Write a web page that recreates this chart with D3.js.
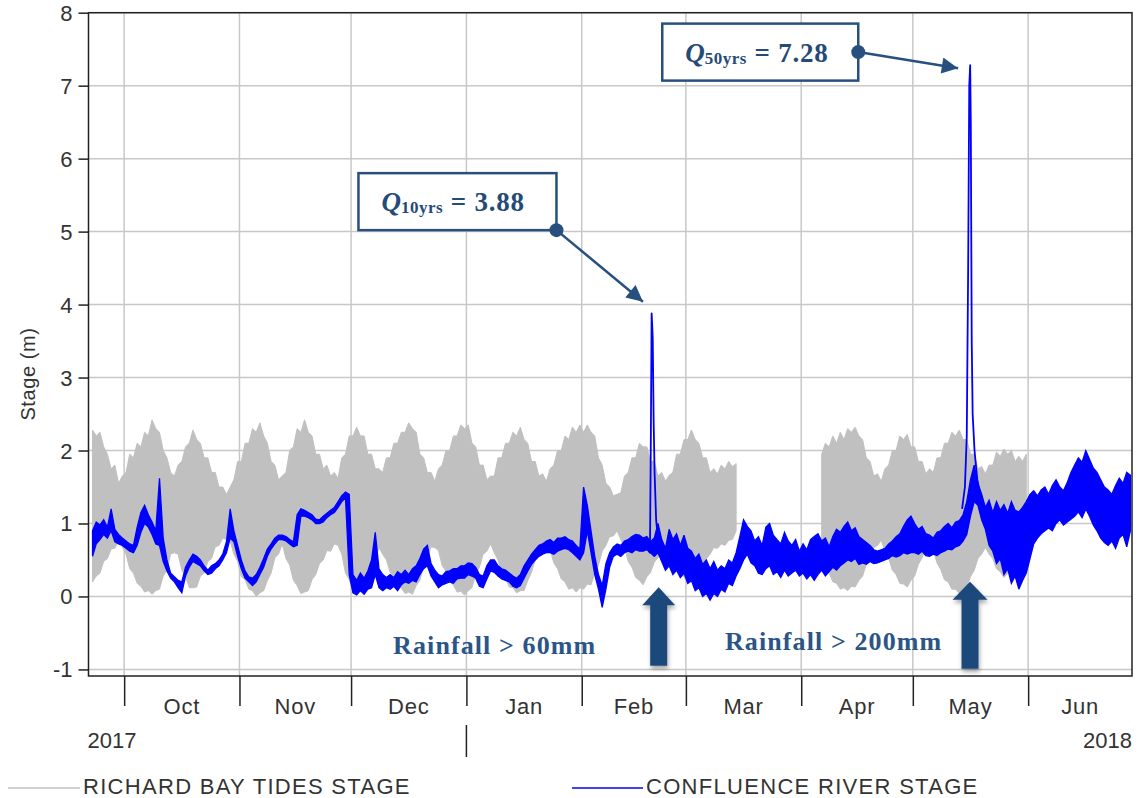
<!DOCTYPE html>
<html>
<head>
<meta charset="utf-8">
<script src="https://cdn.jsdelivr.net/npm/d3@7"></script>
<style>
  body { margin: 0; background: #fff; }
  svg { display: block; }
</style>
</head>
<body>
<svg id="chart" width="1142" height="798"></svg>
<script>
// Daily stage records start on this day (index 0)
const startDay = new Date(2017, 8, 22);

// Richards Bay tide gauge: daily high / low stage (m); null = no record
const tideHigh = [
  2.28,2.2,2.25,2.05,1.95,1.75,1.8,1.55,1.65,1.7,
  1.95,1.9,2.1,2.05,2.25,2.2,2.42,2.3,2.25,2.0,
  1.9,1.7,1.65,1.8,1.85,2.05,2.1,2.28,2.15,2.1,
  1.9,1.9,1.7,1.7,1.5,1.5,1.4,1.5,1.6,1.85,
  1.85,2.1,2.1,2.3,2.25,2.38,2.2,2.1,1.85,1.8,
  1.6,1.65,1.7,2.0,2.05,2.3,2.25,2.42,2.25,2.2,
  1.95,1.95,1.75,1.8,1.65,1.7,1.62,1.9,1.95,2.2,
  2.2,2.32,2.2,2.2,1.95,1.95,1.75,1.75,1.7,1.9,
  1.9,2.1,2.1,2.25,2.25,2.38,2.3,2.25,1.95,1.9,
  1.7,1.7,1.58,1.75,1.8,2.0,2.0,2.2,2.2,2.35,
  2.3,2.35,2.1,2.05,1.8,1.8,1.6,1.65,1.65,1.9,
  1.9,2.1,2.1,2.25,2.2,2.32,2.15,2.1,1.85,1.85,
  1.65,1.68,1.58,1.75,1.8,2.0,2.0,2.2,2.15,2.32,
  2.25,2.35,2.25,2.35,2.25,2.2,1.9,1.8,1.55,1.5,
  1.38,1.4,1.42,1.65,1.7,1.9,1.9,2.1,2.05,2.05,
  1.85,1.85,1.65,1.7,1.58,1.66,1.7,1.95,1.95,2.15,
  2.15,2.28,2.15,2.1,1.9,1.9,1.7,1.75,1.68,1.8,
  1.75,1.85,1.78,1.82,null,null,null,null,null,null,
  null,null,null,null,null,null,null,null,null,null,
  null,null,null,null,null,null,1.95,2.1,2.05,2.2,
  2.1,2.25,2.15,2.3,2.25,2.32,2.2,2.15,1.9,1.85,
  1.65,1.68,1.58,1.75,1.8,2.0,2.0,2.2,2.15,2.22,
  2.05,2.05,1.85,1.85,1.68,1.75,1.7,1.9,1.9,2.1,
  2.1,2.25,2.2,2.28,2.15,2.15,1.95,1.95,1.75,1.78,
  1.68,1.8,1.8,1.98,1.92,2.02,1.95,2.0,1.85,1.92,
  1.85,1.95
];
const tideLow = [
  0.2,0.28,0.32,0.48,0.52,0.65,0.66,0.76,0.68,0.58,
  0.38,0.32,0.18,0.14,0.06,0.08,0.03,0.08,0.1,0.28,
  0.36,0.58,0.6,0.58,0.36,0.28,0.12,0.12,0.13,0.28,
  0.32,0.48,0.52,0.68,0.7,0.8,0.78,0.76,0.58,0.48,
  0.27,0.23,0.1,0.08,0.0,0.05,0.08,0.22,0.32,0.53,
  0.58,0.72,0.52,0.43,0.22,0.15,0.04,0.06,0.08,0.23,
  0.3,0.45,0.5,0.63,0.62,0.72,0.7,0.58,0.32,0.23,
  0.08,0.09,0.06,0.18,0.25,0.45,0.52,0.67,0.58,0.5,
  0.33,0.28,0.13,0.12,0.04,0.06,0.03,0.15,0.22,0.43,
  0.52,0.68,0.67,0.63,0.42,0.35,0.2,0.16,0.06,0.07,
  0.02,0.08,0.12,0.3,0.4,0.58,0.62,0.72,0.6,0.5,
  0.32,0.26,0.13,0.12,0.05,0.08,0.08,0.22,0.33,0.5,
  0.58,0.7,0.7,0.64,0.46,0.38,0.24,0.2,0.1,0.12,
  0.06,0.12,0.1,0.17,0.16,0.32,0.43,0.62,0.7,0.82,
  0.83,0.9,0.78,0.67,0.48,0.4,0.26,0.22,0.16,0.27,
  0.33,0.47,0.53,0.64,0.64,0.67,0.53,0.44,0.3,0.27,
  0.18,0.2,0.18,0.32,0.38,0.52,0.58,0.67,0.66,0.72,
  0.7,0.77,0.78,0.9,null,null,null,null,null,null,
  null,null,null,null,null,null,null,null,null,null,
  null,null,null,null,null,null,0.52,0.38,0.32,0.2,
  0.18,0.1,0.12,0.08,0.14,0.13,0.22,0.28,0.44,0.53,
  0.67,0.7,0.77,0.63,0.52,0.36,0.3,0.18,0.17,0.13,
  0.22,0.28,0.44,0.53,0.67,0.68,0.64,0.46,0.37,0.23,
  0.2,0.1,0.1,0.04,0.1,0.13,0.27,0.36,0.52,0.58,
  0.67,0.58,0.52,0.38,0.34,0.26,0.32,0.38,0.52,0.53,
  0.62,0.63
];

// Confluence river gauge: daily low / high stage (m)
const riverLow = [
  0.55,0.72,0.78,0.85,0.8,0.9,0.75,0.72,0.7,0.66,
  0.62,0.6,0.7,0.88,1.0,0.95,0.85,0.72,0.7,0.48,
  0.35,0.25,0.2,0.12,0.05,0.28,0.4,0.48,0.45,0.42,
  0.35,0.3,0.32,0.38,0.42,0.5,0.6,0.8,0.75,0.55,
  0.38,0.25,0.2,0.15,0.2,0.3,0.4,0.55,0.65,0.72,
  0.78,0.78,0.76,0.72,0.68,0.7,1.1,1.1,1.08,1.05,
  1.0,1.0,1.02,1.08,1.12,1.15,1.22,1.3,1.35,0.3,
  0.05,0.02,0.08,0.03,0.1,0.12,0.3,0.12,0.08,0.12,
  0.1,0.14,0.08,0.16,0.2,0.18,0.22,0.2,0.3,0.38,
  0.42,0.28,0.2,0.12,0.16,0.18,0.2,0.18,0.24,0.25,
  0.25,0.3,0.28,0.25,0.14,0.12,0.24,0.35,0.33,0.28,
  0.24,0.22,0.2,0.14,0.12,0.15,0.25,0.35,0.44,0.5,
  0.55,0.58,0.6,0.6,0.58,0.62,0.64,0.66,0.64,0.6,
  0.55,0.5,0.6,0.9,0.6,0.3,0.1,-0.15,0.1,0.4,
  0.55,0.58,0.55,0.6,0.62,0.6,0.64,0.62,0.62,0.64,
  0.6,0.55,0.6,0.48,0.36,0.42,0.3,0.36,0.26,0.32,
  0.18,0.22,0.08,0.12,0.0,0.04,-0.05,0.04,0.0,0.1,
  0.06,0.18,0.15,0.28,0.38,0.5,0.58,0.46,0.42,0.32,
  0.3,0.38,0.42,0.3,0.34,0.26,0.36,0.28,0.32,0.36,
  0.28,0.32,0.24,0.3,0.22,0.3,0.36,0.28,0.34,0.4,
  0.36,0.42,0.46,0.5,0.48,0.52,0.44,0.46,0.44,0.48,
  0.45,0.46,0.48,0.5,0.52,0.56,0.54,0.56,0.6,0.58,
  0.6,0.6,0.58,0.62,0.56,0.55,0.58,0.56,0.6,0.62,
  0.65,0.64,0.68,0.7,0.76,0.85,1.1,1.3,1.25,1.05,
  0.92,0.7,0.62,0.45,0.52,0.3,0.38,0.18,0.28,0.1,
  0.22,0.32,0.52,0.72,0.8,0.86,0.9,0.94,0.9,1.0,
  1.05,0.98,1.02,1.06,1.1,1.16,1.08,1.2,1.1,0.98,
  0.9,0.8,0.74,0.7,0.76,0.66,0.8,0.85,0.68,0.9
];
const riverHigh = [
  0.9,1.02,0.98,1.05,0.95,1.2,0.92,0.85,0.8,0.76,
  0.72,0.7,0.95,1.15,1.25,1.12,1.02,0.9,1.62,0.8,
  0.5,0.32,0.27,0.22,0.2,0.4,0.5,0.58,0.55,0.5,
  0.42,0.36,0.42,0.45,0.5,0.58,0.75,1.2,0.9,0.7,
  0.5,0.35,0.27,0.25,0.3,0.4,0.52,0.65,0.72,0.8,
  0.84,0.84,0.82,0.78,0.75,1.12,1.2,1.18,1.15,1.12,
  1.06,1.05,1.1,1.14,1.18,1.22,1.3,1.38,1.43,1.4,
  0.3,0.22,0.32,0.25,0.35,0.5,0.88,0.38,0.3,0.26,
  0.3,0.26,0.34,0.3,0.36,0.3,0.38,0.42,0.52,0.65,
  0.7,0.45,0.36,0.3,0.28,0.34,0.35,0.38,0.38,0.42,
  0.42,0.46,0.45,0.4,0.3,0.28,0.42,0.5,0.5,0.42,
  0.38,0.36,0.32,0.28,0.25,0.3,0.42,0.5,0.58,0.64,
  0.7,0.72,0.76,0.78,0.74,0.8,0.8,0.82,0.78,0.76,
  0.7,0.65,1.5,1.25,0.9,0.55,0.3,0.15,0.45,0.6,
  0.68,0.72,0.7,0.76,0.78,0.82,0.85,0.84,0.8,0.82,
  0.75,0.8,1.0,0.78,0.66,0.92,0.78,0.86,0.7,0.84,
  0.66,0.62,0.52,0.58,0.44,0.5,0.38,0.48,0.36,0.42,
  0.38,0.5,0.46,0.6,0.82,1.05,0.96,0.9,0.76,0.82,
  0.7,0.95,1.0,0.84,0.78,0.72,0.88,0.76,0.7,0.78,
  0.62,0.72,0.64,0.78,0.82,0.86,0.76,0.8,0.68,0.82,
  0.92,0.88,0.96,1.02,0.9,0.94,0.82,0.78,0.74,0.7,
  0.64,0.62,0.64,0.66,0.72,0.76,0.82,0.86,0.96,1.05,
  1.1,1.0,0.92,0.96,0.86,0.84,0.8,0.88,0.9,0.96,
  1.0,0.94,1.02,1.04,1.12,1.3,1.6,1.8,1.55,1.4,
  1.22,1.32,1.15,1.3,1.18,1.26,1.14,1.3,1.18,1.16,
  1.22,1.3,1.4,1.45,1.38,1.46,1.5,1.4,1.52,1.6,
  1.5,1.45,1.56,1.7,1.8,1.9,1.84,2.0,1.88,1.76,
  1.7,1.6,1.5,1.46,1.4,1.52,1.62,1.55,1.7,1.66
];

// Flood hydrographs at the confluence gauge (sub-daily readings)
const febFloodTimes = ["2018-02-19 00:00","2018-02-19 08:00","2018-02-19 14:00","2018-02-19 19:00",
  "2018-02-20 02:00","2018-02-20 08:00","2018-02-20 14:00","2018-02-21 00:00","2018-02-21 12:00","2018-02-22 00:00"];
const febFloodStage = [0.62,0.6,2.2,3.88,3.55,2.4,1.7,1.05,0.78,0.55];
const mayFloodTimes = ["2018-05-14 06:00","2018-05-15 00:00","2018-05-15 12:00","2018-05-15 21:00",
  "2018-05-16 04:00","2018-05-16 10:00","2018-05-16 14:00","2018-05-16 20:00","2018-05-17 02:00",
  "2018-05-17 14:00","2018-05-18 08:00","2018-05-19 12:00"];
const mayFloodStage = [1.2,1.5,2.2,4.5,7.0,7.28,6.5,3.5,2.5,2.0,1.6,1.3];

// Axis ticks and labels
const yTicks = [-1,0,1,2,3,4,5,6,7,8];
const monthTicks = ["2017-10-01","2017-11-01","2017-12-01","2018-01-01","2018-02-01",
  "2018-03-01","2018-04-01","2018-05-01","2018-06-01"];
const monthLabels = ["Oct","Nov","Dec","Jan","Feb","Mar","Apr","May","Jun"];
const yearLabels = ["2017","2018"];
const seriesNames = ["RICHARD BAY TIDES STAGE","CONFLUENCE RIVER STAGE"];
const yTitle = "Stage (m)";

// Return-period callouts and rainfall markers
const returnPeriods = ["10yrs","50yrs"];
const peakStages = [3.88, 7.28];
const rainfallLabels = ["Rainfall > 60mm","Rainfall > 200mm"];

// ---------------------------------------------------------------------------
const parseTime = d3.timeParse("%Y-%m-%d %H:%M");
const parseDay = d3.timeParse("%Y-%m-%d");
const dayDate = i => d3.timeDay.offset(startDay, i);

const svg = d3.select("#chart");
const plot = { left: 88.5, right: 1132, top: 12.7, bottom: 676 };

const x = d3.scaleTime()
  .domain([new Date(2017, 8, 21, 10), new Date(2018, 5, 28, 22)])
  .range([plot.left, plot.right]);
const y = d3.scaleLinear().domain([-1.09, 8]).range([plot.bottom, plot.top]);

const defs = svg.append("defs");
defs.append("clipPath").attr("id", "plotClip").append("rect")
  .attr("x", plot.left).attr("y", plot.top)
  .attr("width", plot.right - plot.left).attr("height", plot.bottom - plot.top);
const shadow = defs.append("filter").attr("id", "shadow")
  .attr("x", "-50%").attr("y", "-20%").attr("width", "200%").attr("height", "150%");
shadow.append("feDropShadow").attr("dx", 1).attr("dy", 3).attr("stdDeviation", 2)
  .attr("flood-color", "#000").attr("flood-opacity", 0.35);

const monthDates = monthTicks.map(parseDay);

// Grid
const grid = svg.append("g").attr("stroke", "#c8c8c8").attr("stroke-width", 1.5);
grid.selectAll("line.h").data(yTicks).join("line").attr("class", "h")
  .attr("x1", plot.left).attr("x2", plot.right)
  .attr("y1", d => y(d)).attr("y2", d => y(d));
grid.selectAll("line.v").data(monthDates).join("line").attr("class", "v")
  .attr("x1", d => x(d)).attr("x2", d => x(d))
  .attr("y1", plot.top).attr("y2", plot.bottom);

// Series: each day is drawn as the band between its lowest and highest reading
const data = svg.append("g").attr("clip-path", "url(#plotClip)");

const tide = tideHigh.map((hi, i) => ({ t: d3.timeHour.offset(dayDate(i), 12), hi, lo: tideLow[i] }));
const river = riverHigh.map((hi, i) => ({ t: d3.timeHour.offset(dayDate(i), 12), hi, lo: riverLow[i] }));

const band = d3.area()
  .defined(d => d.hi != null && d.lo != null)
  .x(d => x(d.t)).y0(d => y(d.lo)).y1(d => y(d.hi));

data.append("path").datum(tide).attr("d", band)
  .attr("fill", "#c0c0c0").attr("stroke", "#c0c0c0").attr("stroke-width", 1)
  .attr("stroke-linejoin", "miter").attr("stroke-miterlimit", 3);

data.append("path").datum(river).attr("d", band)
  .attr("fill", "#0000ff").attr("stroke", "#0000ff").attr("stroke-width", 1.3)
  .attr("stroke-linejoin", "miter").attr("stroke-miterlimit", 3);

const line = d3.line().x(d => x(d.t)).y(d => y(d.v));
[[febFloodTimes, febFloodStage], [mayFloodTimes, mayFloodStage]].forEach(([ts, vs]) => {
  const pts = ts.map((t, i) => ({ t: parseTime(t), v: vs[i] }));
  data.append("path").datum(pts).attr("d", line)
    .attr("fill", "none").attr("stroke", "#0000ff").attr("stroke-width", 1.8)
    .attr("stroke-linejoin", "round");
});

// Frame
svg.append("rect")
  .attr("x", plot.left).attr("y", plot.top)
  .attr("width", plot.right - plot.left).attr("height", plot.bottom - plot.top)
  .attr("fill", "none").attr("stroke", "#222").attr("stroke-width", 1.5);

const font = "'Liberation Sans', Arial, sans-serif";

// Y axis
const yAxis = svg.append("g").attr("transform", `translate(${plot.left},0)`)
  .call(d3.axisLeft(y).tickValues(yTicks).tickSize(10).tickPadding(6).tickFormat(d => String(d)));
yAxis.select(".domain").remove();
yAxis.selectAll(".tick line").attr("stroke", "#222").attr("stroke-width", 1.5);
yAxis.selectAll(".tick text").attr("font-family", font).attr("font-size", 22)
  .attr("fill", "#333").attr("dy", "0.34em");

svg.append("text")
  .attr("transform", `translate(35,374) rotate(-90)`)
  .attr("text-anchor", "middle")
  .attr("font-family", font).attr("font-size", 20).attr("letter-spacing", 0.6)
  .attr("fill", "#333").text(yTitle);

// X axis: month boundaries, month names centred in each month
const xAxis = svg.append("g").attr("transform", `translate(0,${plot.bottom})`)
  .call(d3.axisBottom(x).tickValues(monthDates).tickSize(30).tickFormat(""));
xAxis.select(".domain").remove();
xAxis.selectAll(".tick line").attr("stroke", "#222").attr("stroke-width", 1.5);

const monthEnds = monthDates.slice(1).concat([x.domain()[1]]);
svg.append("g").selectAll("text").data(monthLabels).join("text")
  .attr("x", (d, i) => (x(monthDates[i]) + x(monthEnds[i])) / 2)
  .attr("y", 714)
  .attr("text-anchor", "middle")
  .attr("font-family", font).attr("font-size", 22).attr("letter-spacing", 0.8)
  .attr("fill", "#333").text(d => d);

// Year boundary marker and year labels
const newYear = monthDates[3];
svg.append("line")
  .attr("x1", x(newYear)).attr("x2", x(newYear)).attr("y1", 725).attr("y2", 757)
  .attr("stroke", "#222").attr("stroke-width", 1.5);
svg.append("text").attr("x", plot.left - 1).attr("y", 748)
  .attr("font-family", font).attr("font-size", 22).attr("fill", "#333").text(yearLabels[0]);
svg.append("text").attr("x", plot.right).attr("y", 748).attr("text-anchor", "end")
  .attr("font-family", font).attr("font-size", 22).attr("fill", "#333").text(yearLabels[1]);

// Legend
const legend = svg.append("g");
const legendItems = [
  { name: seriesNames[0], color: "#c0c0c0", x0: 8, x1: 80 },
  { name: seriesNames[1], color: "#0000ff", x0: 572, x1: 643 }
];
legendItems.forEach(it => {
  legend.append("line").attr("x1", it.x0).attr("x2", it.x1).attr("y1", 788).attr("y2", 788)
    .attr("stroke", it.color).attr("stroke-width", 1.5);
  legend.append("text").attr("x", it.x1 + 3).attr("y", 794)
    .attr("font-family", font).attr("font-size", 22).attr("letter-spacing", 1.3)
    .attr("fill", "#333").text(it.name);
});

// Callouts for the flood peaks
const navy = "#27507f";
const serif = "'Liberation Serif', 'Times New Roman', serif";
defs.append("marker").attr("id", "head").attr("viewBox", "0 0 10 10")
  .attr("refX", 10).attr("refY", 5).attr("markerWidth", 7).attr("markerHeight", 6.5)
  .attr("markerUnits", "strokeWidth").attr("orient", "auto")
  .append("path").attr("d", "M0,0 L10,5 L0,10 Z").attr("fill", navy);

const callouts = [
  { dot: [parseTime("2018-01-25 05:00"), 5.02], tip: [parseTime("2018-02-17 11:00"), 4.04],
    w: 198, h: 57, corner: "bottom" },
  { dot: [parseTime("2018-04-16 08:00"), 7.46], tip: [parseTime("2018-05-13 04:00"), 7.24],
    w: 196, h: 57, corner: "middle" }
];
callouts.forEach((c, i) => {
  const dx = x(c.dot[0]), dy = y(c.dot[1]);
  const bx = dx - c.w, by = c.corner === "bottom" ? dy - c.h : dy - c.h / 2;
  const g = svg.append("g");
  g.append("rect").attr("x", bx).attr("y", by).attr("width", c.w).attr("height", c.h)
    .attr("fill", "#fff").attr("stroke", navy).attr("stroke-width", 2.5);
  g.append("line").attr("x1", dx).attr("y1", dy).attr("x2", x(c.tip[0])).attr("y2", y(c.tip[1]))
    .attr("stroke", navy).attr("stroke-width", 2.5).attr("marker-end", "url(#head)");
  g.append("circle").attr("cx", dx).attr("cy", dy).attr("r", 7).attr("fill", navy);
  const t = g.append("text").attr("x", bx + 23).attr("y", by + 38.3)
    .attr("font-family", serif).attr("font-weight", "bold").attr("fill", "#244a78");
  t.append("tspan").attr("font-size", 27).attr("font-style", "italic").text("Q");
  t.append("tspan").attr("font-size", 17).attr("dy", 2).attr("letter-spacing", 0.5).text(returnPeriods[i]);
  t.append("tspan").attr("font-size", 27).attr("dy", -2).attr("letter-spacing", 0.8)
    .text(` = ${peakStages[i].toFixed(2)}`);
});

// Rainfall markers: block arrows pointing at the flood onset
const rainArrows = [
  { at: parseTime("2018-02-21 16:30"), tip: 0.126, base: -0.95, headW: 33, shaftW: 17, headL: 18 },
  { at: parseTime("2018-05-16 09:00"), tip: 0.2, base: -0.99, headW: 35, shaftW: 17, headL: 18 }
];
rainArrows.forEach(a => {
  const cx = x(a.at), ty = y(a.tip), by = y(a.base);
  const p = d3.path();
  p.moveTo(cx, ty);
  p.lineTo(cx + a.headW / 2, ty + a.headL);
  p.lineTo(cx + a.shaftW / 2, ty + a.headL);
  p.lineTo(cx + a.shaftW / 2, by);
  p.lineTo(cx - a.shaftW / 2, by);
  p.lineTo(cx - a.shaftW / 2, ty + a.headL);
  p.lineTo(cx - a.headW / 2, ty + a.headL);
  p.closePath();
  svg.append("path").attr("d", p.toString()).attr("fill", "#1f4a7c").attr("filter", "url(#shadow)");
});

const rainText = [
  { at: parseTime("2017-12-12 07:00"), v: -0.79 },
  { at: parseTime("2018-03-11 12:00"), v: -0.73 }
];
svg.append("g").selectAll("text").data(rainfallLabels).join("text")
  .attr("x", (d, i) => x(rainText[i].at)).attr("y", (d, i) => y(rainText[i].v))
  .attr("font-family", serif).attr("font-weight", "bold").attr("font-size", 26)
  .attr("letter-spacing", 1.1).attr("fill", "#2b5587").text(d => d);
</script>
</body>
</html>
